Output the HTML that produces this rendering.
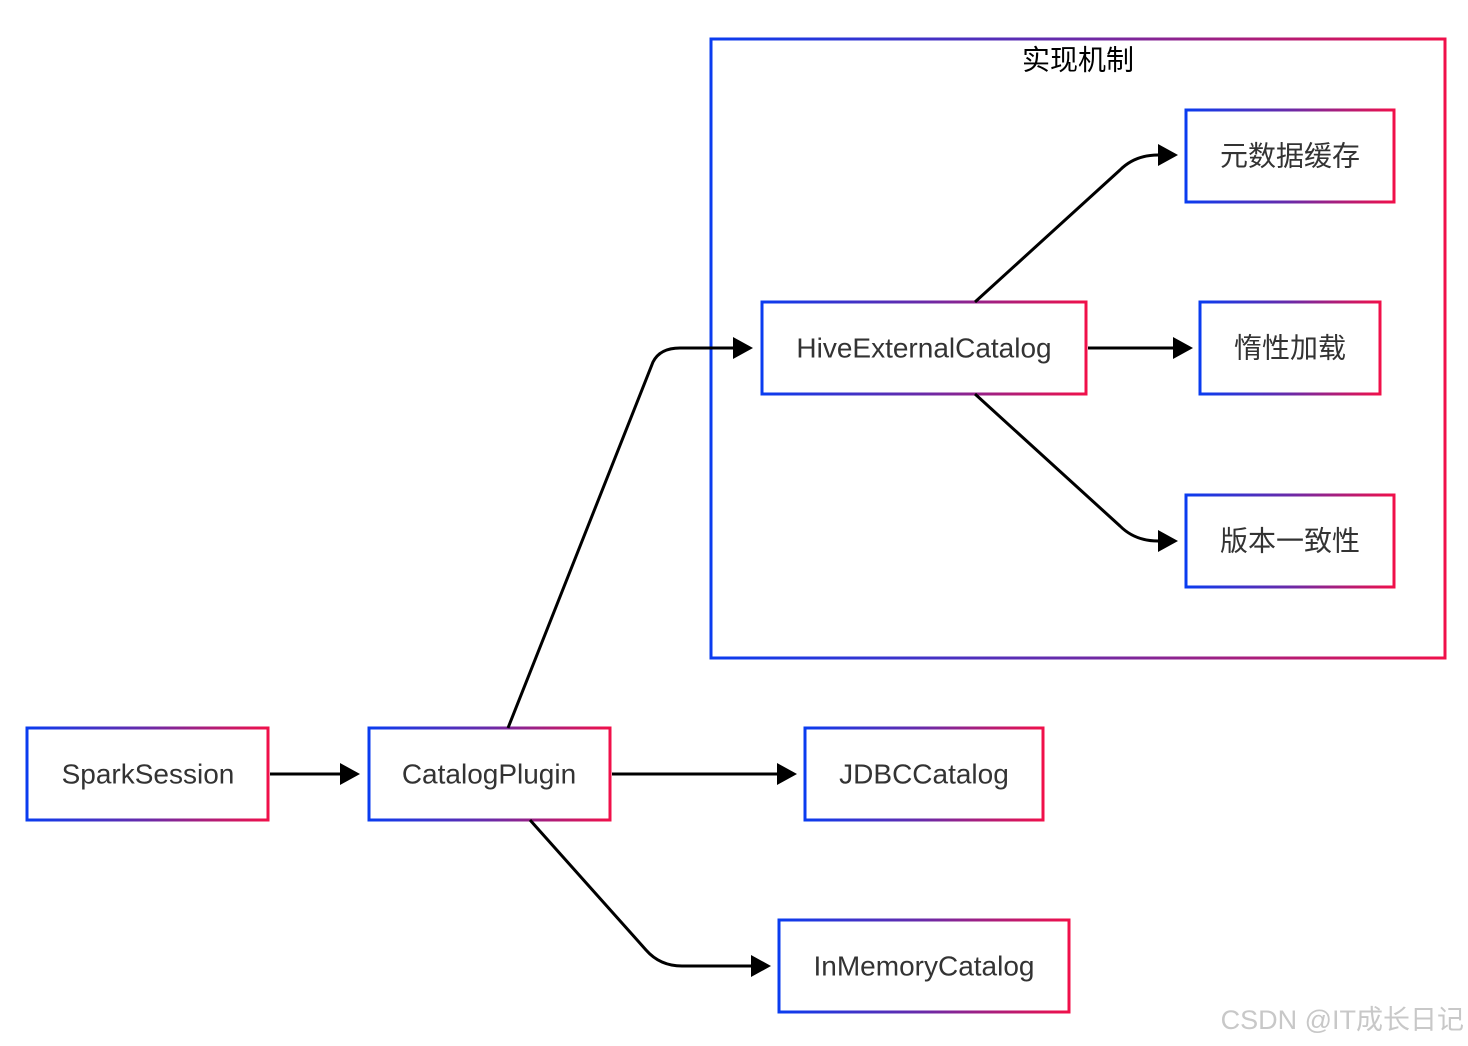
<!DOCTYPE html>
<html><head><meta charset="utf-8"><style>
html,body{margin:0;padding:0;background:#fff;}
svg{display:block;}
text{font-family:"Liberation Sans","Noto Sans CJK SC",sans-serif;}
</style></head><body>
<svg width="1468" height="1046" viewBox="0 0 1468 1046" xmlns="http://www.w3.org/2000/svg">
<defs>
<linearGradient id="g" x1="0" y1="0" x2="1" y2="0">
<stop offset="0" stop-color="#0a3cf0"/><stop offset="0.5" stop-color="#6a2aa8"/><stop offset="1" stop-color="#f0104a"/>
</linearGradient>
</defs>
<g fill="none" stroke="url(#g)" stroke-width="3">
<rect x="711" y="39" width="734" height="619"/>
<rect x="1186" y="110" width="208" height="92"/>
<rect x="762" y="302" width="324" height="92"/>
<rect x="1200" y="302" width="180" height="92"/>
<rect x="1186" y="495" width="208" height="92"/>
<rect x="27" y="728" width="241" height="92"/>
<rect x="369" y="728" width="241" height="92"/>
<rect x="805" y="728" width="238" height="92"/>
<rect x="779" y="920" width="290" height="92"/>
</g>
<g fill="none" stroke="#000" stroke-width="3">
<path d="M270,774 L340,774"/>
<path d="M612,774 L777,774"/>
<path d="M508,728 L653,362 Q660,348 680,348 L733,348"/>
<path d="M530,820 L646,950 Q660,966 682,966 L751,966"/>
<path d="M975,302 L1120,170 Q1135,155 1158,155"/>
<path d="M1088,348 L1173,348"/>
<path d="M975,394 L1120,526 Q1135,541 1158,541"/>
</g>
<g fill="#000">
<path d="M340,763 L360,774 L340,785 z"/>
<path d="M777,763 L797,774 L777,785 z"/>
<path d="M733,337 L753,348 L733,359 z"/>
<path d="M751,955 L771,966 L751,977 z"/>
<path d="M1158,144 L1178,155 L1158,166 z"/>
<path d="M1173,337 L1193,348 L1173,359 z"/>
<path d="M1158,530 L1178,541 L1158,552 z"/>
</g>
<g font-size="28" fill="#333" text-anchor="middle" dominant-baseline="central">
<text x="1078" y="60" fill="#000">实现机制</text>
<text x="1290" y="156">元数据缓存</text>
<text x="924" y="348">HiveExternalCatalog</text>
<text x="1290" y="348">惰性加载</text>
<text x="1290" y="541">版本一致性</text>
<text x="148" y="774">SparkSession</text>
<text x="489" y="774">CatalogPlugin</text>
<text x="924" y="774">JDBCCatalog</text>
<text x="924" y="966">InMemoryCatalog</text>
</g>
<text x="1464" y="1020" font-size="27" fill="#c8c8c8" text-anchor="end" dominant-baseline="central">CSDN @IT成长日记</text>
</svg>
</body></html>
